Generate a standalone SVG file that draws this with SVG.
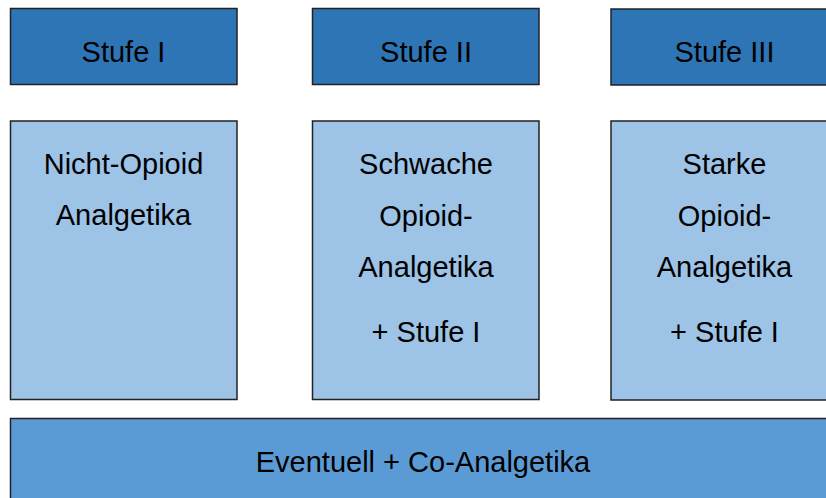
<svg xmlns="http://www.w3.org/2000/svg" width="826" height="498" viewBox="0 0 826 498">
<style>
rect{stroke:#222;stroke-width:1.5}
.h{fill:#2E75B6}
.c{fill:#9DC3E6}
.b{fill:#5B9BD5}
text{font-family:"Liberation Sans",Arial,sans-serif;font-size:29px;fill:#000;text-anchor:middle}
</style>
<rect width="826" height="498" fill="#fff" style="stroke:none"/>
<g id="stufe1"><rect class="h" x="10.5" y="8.5" width="226.5" height="76"/><text x="123.5" y="62">Stufe I</text></g>
<g id="stufe2"><rect class="h" x="312.5" y="8.5" width="226.5" height="76"/><text x="426" y="62">Stufe II</text></g>
<g id="stufe3"><rect class="h" x="611" y="9" width="227" height="76"/><text x="724.5" y="62">Stufe III</text></g>
<g id="inhalt1"><rect class="c" x="10.5" y="121" width="226.5" height="278.5"/><text x="123.5" y="174">Nicht-Opioid</text><text x="123.5" y="225">Analgetika</text></g>
<g id="inhalt2"><rect class="c" x="312.5" y="121" width="226.5" height="278.5"/><text x="426" y="174">Schwache</text><text x="426" y="226">Opioid-</text><text x="426" y="277">Analgetika</text><text x="426" y="342">+ Stufe I</text></g>
<g id="inhalt3"><rect class="c" x="611" y="121" width="227" height="279"/><text x="724.5" y="174">Starke</text><text x="724.5" y="226">Opioid-</text><text x="724.5" y="277">Analgetika</text><text x="724.5" y="342">+ Stufe I</text></g>
<g id="co"><rect class="b" x="10.5" y="418.5" width="828" height="90"/><text x="423" y="472">Eventuell + Co-Analgetika</text></g>
<g id="connectors"></g>
</svg>
